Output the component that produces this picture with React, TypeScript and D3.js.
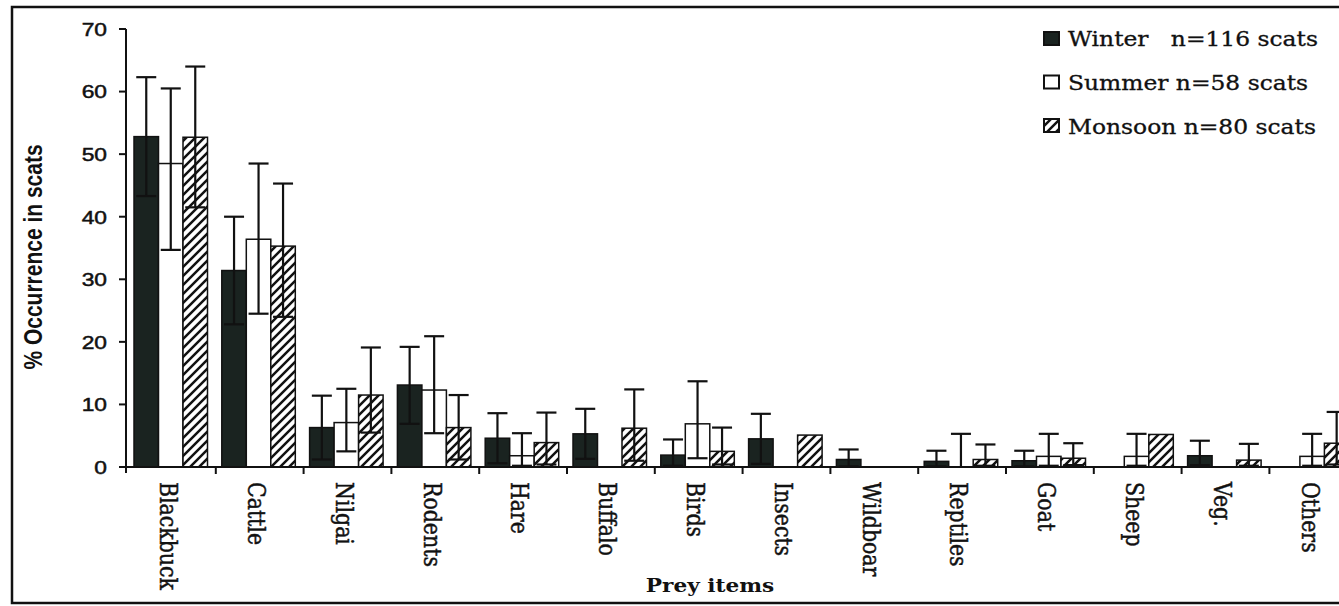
import * as d3 from 'd3';

const W = 1339;
const H = 606;
const SX = 1.2; // the scan is stretched sideways, so the text is too

const categories = ['Blackbuck', 'Cattle', 'Nilgai', 'Rodents', 'Hare', 'Buffalo', 'Birds', 'Insects', 'Wildboar', 'Reptiles', 'Goat', 'Sheep', 'Veg.', 'Others'];

const winter = [52.8, 31.4, 6.3, 13.1, 4.6, 5.3, 1.9, 4.5, 1.2, 0.9, 1.0, 0, 1.8, 0];
const winterLow = [43.3, 22.8, 1.2, 6.9, 0.6, 1.3, 0.2, 0.5, 0.1, 0.1, 0.1, null, 0.3, null];
const winterHigh = [62.3, 40.0, 11.4, 19.2, 8.6, 9.3, 4.4, 8.5, 2.8, 2.6, 2.6, null, 4.2, null];

const summer = [48.5, 36.4, 7.1, 12.3, 1.8, 0, 6.9, 0, 0, 0, 1.7, 1.7, 0, 1.7];
const summerLow = [34.7, 24.5, 2.5, 5.4, 0.2, null, 1.4, null, null, 0, 0.2, 0.2, null, 0.2];
const summerHigh = [60.5, 48.5, 12.5, 20.9, 5.4, null, 13.7, null, null, 5.3, 5.3, 5.3, null, 5.3];

const monsoon = [52.7, 35.3, 11.5, 6.3, 3.9, 6.2, 2.5, 5.1, 0, 1.2, 1.4, 5.2, 1.1, 3.8];
const monsoonLow = [41.5, 24.0, 5.5, 1.2, 0.4, 1.0, 0.4, null, null, 0.2, 0.3, null, 0.2, 0.4];
const monsoonHigh = [64.0, 45.3, 19.1, 11.5, 8.7, 12.4, 6.3, null, null, 3.6, 3.8, null, 3.7, 8.8];

const seriesNames = ['Winter', 'Summer', 'Monsoon'];
const legendLabels = ['Winter   n=116 scats', 'Summer n=58 scats', 'Monsoon n=80 scats'];
const yTicks = [0, 10, 20, 30, 40, 50, 60, 70];

const series = [
  { name: 'Winter', values: winter, low: winterLow, high: winterHigh, fill: '#1a2320' },
  { name: 'Summer', values: summer, low: summerLow, high: summerHigh, fill: '#ffffff' },
  { name: 'Monsoon', values: monsoon, low: monsoonLow, high: monsoonHigh, fill: 'url(#hatch)' },
];

export default function App() {
  const x = d3.scaleBand<string>().domain(categories).range([128, 128 + 14 * 87.8]);
  const xs = d3.scaleBand<string>().domain(seriesNames).range([6, 6 + 3 * 24.5]);
  const y = d3.scaleLinear().domain([0, 70]).range([467, 29]);
  const axisX = 126;
  const capW = 20;

  return (
    <svg width={W} height={H} style={{ position: 'absolute', left: 0, top: 0, background: '#fff' }}>
      <defs>
        <pattern id="hatch" patternUnits="userSpaceOnUse" width={9} height={9}>
          <rect width={9} height={9} fill="#fff" />
          <path d="M0,9 L9,0 M-2,2 L2,-2 M7,11 L11,7" stroke="#111" strokeWidth={2.5} />
        </pattern>
      </defs>

      {/* frame */}
      <rect x={12} y={7} width={1345} height={596} fill="none" stroke="#111" strokeWidth={2.5} />

      {/* bars */}
      {series.map((s) =>
        categories.map((c, i) => {
          const v = s.values[i];
          if (!v) return null;
          const bx = (x(c) ?? 0) + (xs(s.name) ?? 0);
          return (
            <rect key={s.name + c} x={bx} y={y(v)} width={xs.bandwidth()} height={y(0) - y(v)}
              fill={s.fill} stroke="#111" strokeWidth={1.5} />
          );
        })
      )}

      {/* error bars */}
      {series.map((s) =>
        categories.map((c, i) => {
          const lo = s.low[i];
          const hi = s.high[i];
          if (lo == null || hi == null) return null;
          const cx = (x(c) ?? 0) + (xs(s.name) ?? 0) + xs.bandwidth() / 2;
          return (
            <g key={'e' + s.name + c} stroke="#111" strokeWidth={2.2}>
              <line x1={cx} x2={cx} y1={y(lo)} y2={y(hi)} />
              <line x1={cx - capW / 2} x2={cx + capW / 2} y1={y(hi)} y2={y(hi)} />
              {lo > 0 && <line x1={cx - capW / 2} x2={cx + capW / 2} y1={y(lo)} y2={y(lo)} />}
            </g>
          );
        })
      )}

      {/* y axis */}
      <line x1={axisX} x2={axisX} y1={y(70)} y2={y(0) + 6} stroke="#111" strokeWidth={2} />
      {yTicks.map((t) => (
        <g key={t}>
          <line x1={axisX - 7} x2={axisX} y1={y(t)} y2={y(t)} stroke="#111" strokeWidth={2} />
          <text transform={`translate(107,${y(t)}) scale(${SX},1)`} dy="0.36em" textAnchor="end"
            fontFamily="Liberation Sans, Arial, sans-serif" fontSize={19} fill="#111"
            stroke="#111" strokeWidth={0.5}>{t}</text>
        </g>
      ))}
      <text transform={`translate(33,257) scale(${SX},1) rotate(-90)`} dy="0.36em" textAnchor="middle"
        fontFamily="Liberation Sans, Arial, sans-serif" fontWeight="bold" fontSize={21} fill="#111">
        % Occurrence in scats
      </text>

      {/* x axis */}
      <line x1={axisX - 7} x2={W} y1={y(0)} y2={y(0)} stroke="#111" strokeWidth={2} />
      {categories.slice(1).map((c) => (
        <line key={'t' + c} x1={x(c)} x2={x(c)} y1={y(0)} y2={y(0) + 7} stroke="#111" strokeWidth={2} />
      ))}
      {categories.map((c) => (
        <text key={'l' + c} transform={`translate(${(x(c) ?? 0) + x.bandwidth() / 2 - 3},482) scale(${SX},1) rotate(90)`}
          dy="0.35em" fontFamily="DejaVu Serif, serif" fontSize={20.5} fill="#111"
          stroke="#111" strokeWidth={0.4}>{c}</text>
      ))}
      <text transform={`translate(710,592) scale(${SX},1)`} textAnchor="middle"
        fontFamily="DejaVu Serif, serif" fontWeight="bold" fontSize={18} fill="#111">Prey items</text>

      {/* legend */}
      {series.map((s, i) => (
        <g key={'lg' + s.name}>
          <rect x={1044} y={32 + i * 43.5} width={15} height={13} fill={s.fill} stroke="#111" strokeWidth={2} />
          <text transform={`translate(1068,${46 + i * 44}) scale(${SX},1)`} style={{ whiteSpace: 'pre' }}
            fontFamily="DejaVu Serif, serif" fontSize={19.5} fill="#111"
            stroke="#111" strokeWidth={0.3}>{legendLabels[i]}</text>
        </g>
      ))}
    </svg>
  );
}
